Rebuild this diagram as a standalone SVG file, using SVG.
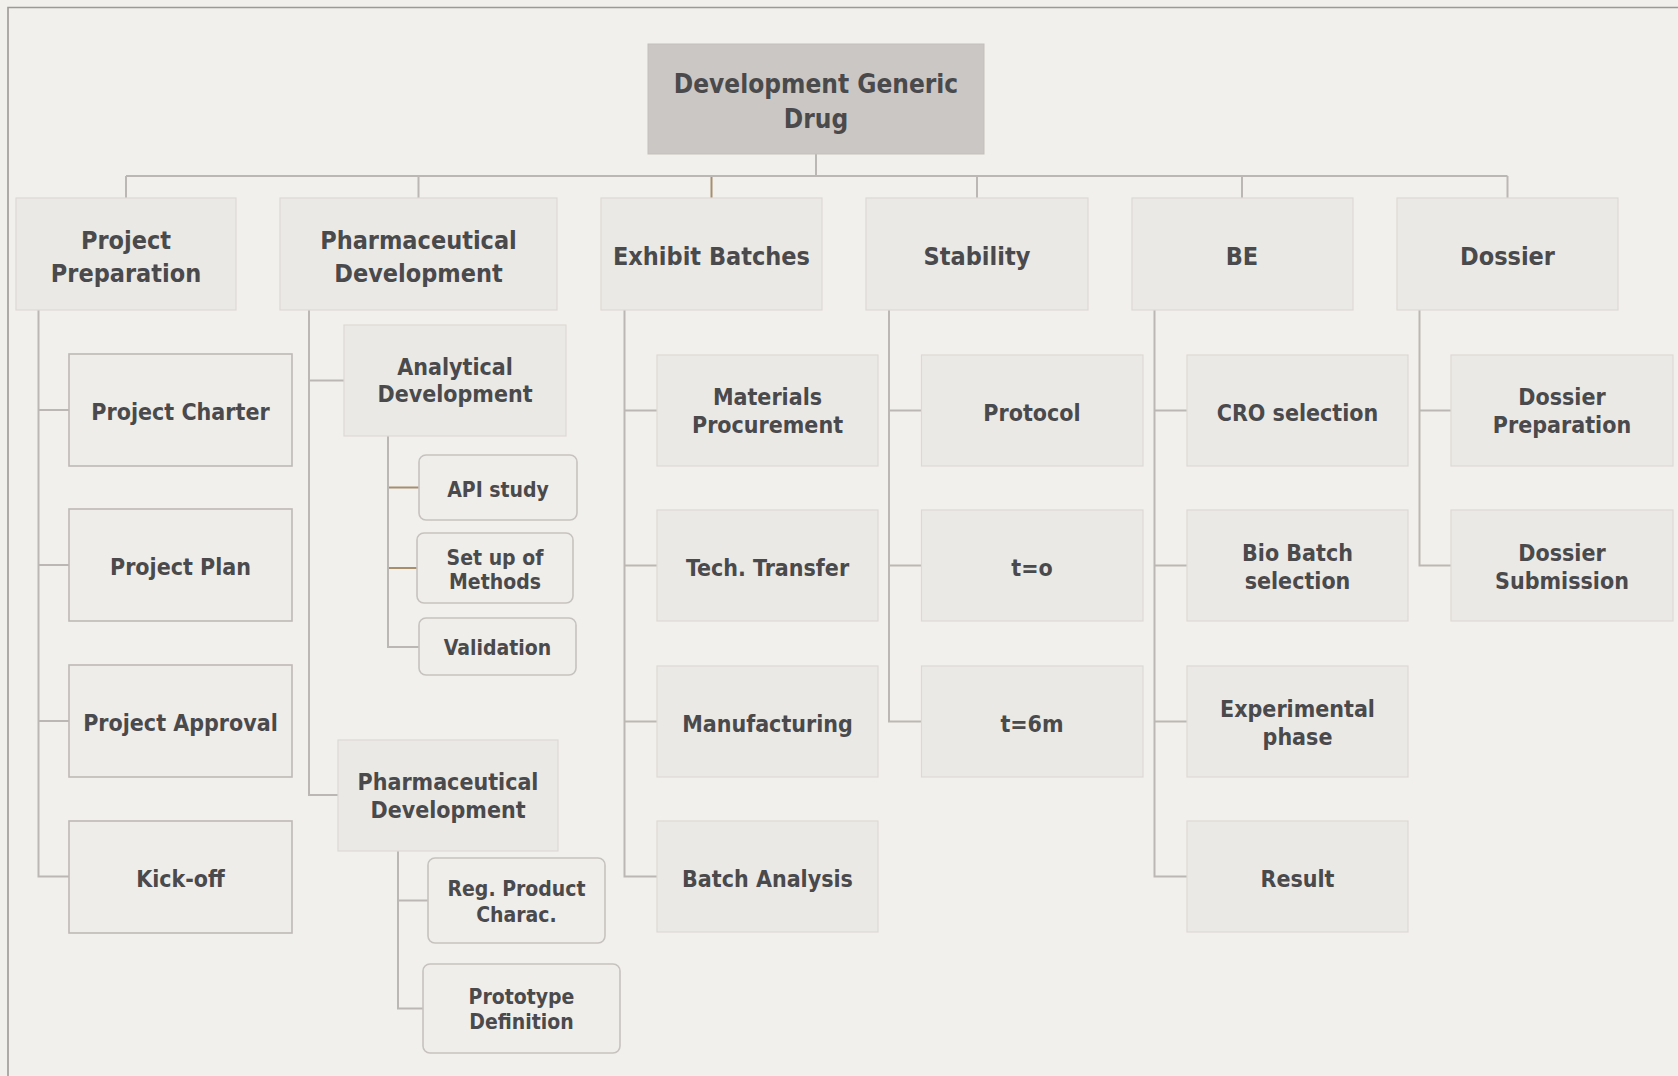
<svg xmlns="http://www.w3.org/2000/svg" width="1678" height="1076" viewBox="0 0 1678 1076">
<style>
text{font-family:"DejaVu Sans Condensed","DejaVu Sans","Liberation Sans",sans-serif;font-stretch:condensed;font-weight:bold;fill:#4a4a4c;text-anchor:middle}
.root rect{fill:#cbc7c4;stroke:#c3bfbc;stroke-width:1}
.root text{font-size:26px}
.l1 rect{fill:#ebe9e6;stroke:#dcd9d5;stroke-width:1.2}
.l1 text{font-size:25px}
.l2 rect{fill:#ebe9e6;stroke:#dcd9d5;stroke-width:1.2}
.l2 text{font-size:23px}
.pp rect{fill:#efedea;stroke:#bdb9b6;stroke-width:1.6}
.l3 rect{fill:#f0eeeb;stroke:#c6c2bf;stroke-width:1.6}
.l3 text{font-size:21px}
#connectors line,#connectors path{stroke:#bbb7b4;stroke-width:2;fill:none}
#connectors .br{stroke:#a88f6c}
.frame{stroke:#9c9996;stroke-width:1.6;fill:none}
</style>
<rect x="0" y="0" width="1678" height="1076" fill="#f2f0ed"/>
<path class="frame" d="M8,1076 L8,7.5 L1678,7.5"/>

<g id="connectors">
<line x1="816" y1="154" x2="816" y2="176"/>
<line x1="126" y1="176" x2="1507.5" y2="176"/>
<line x1="126" y1="176" x2="126" y2="198"/>
<line x1="418.5" y1="176" x2="418.5" y2="198"/>
<line class="br" x1="711.5" y1="177" x2="711.5" y2="198"/>
<line x1="977" y1="176" x2="977" y2="198"/>
<line x1="1242" y1="176" x2="1242" y2="198"/>
<line x1="1507.5" y1="176" x2="1507.5" y2="198"/>
<!-- Project Preparation -->
<path d="M38.5,310 V876.5 H69 M38.5,410 H69 M38.5,565 H69 M38.5,721 H69"/>
<!-- Pharmaceutical Development -->
<path d="M309,310 V795 H338 M309,380.5 H344"/>
<path d="M388,436 V647 H419"/>
<line class="br" x1="389" y1="487.5" x2="419" y2="487.5"/>
<line class="br" x1="389" y1="568" x2="417" y2="568"/>
<path d="M398,851 V1008.5 H423 M398,900.5 H428"/>
<!-- Exhibit Batches -->
<path d="M624.5,310 V876.5 H657 M624.5,410.5 H657 M624.5,565.5 H657 M624.5,721.5 H657"/>
<!-- Stability -->
<path d="M889,310 V721.5 H921.5 M889,410.5 H921.5 M889,565.5 H921.5"/>
<!-- BE -->
<path d="M1154.5,310 V876.5 H1187 M1154.5,410.5 H1187 M1154.5,565.5 H1187 M1154.5,721.5 H1187"/>
<!-- Dossier -->
<path d="M1419.5,310 V565.5 H1451 M1419.5,410.5 H1451"/>
</g>

<g id="root" class="root"><rect x="648" y="44" width="336" height="110"/><text x="816" y="93">Development Generic</text><text x="816" y="128">Drug</text></g>

<g id="project-preparation" class="l1"><rect x="16" y="198" width="220" height="112"/><text x="126" y="249">Project</text><text x="126" y="282">Preparation</text></g>
<g id="pharmaceutical-development" class="l1"><rect x="280" y="198" width="277" height="112"/><text x="418.5" y="249">Pharmaceutical</text><text x="418.5" y="282">Development</text></g>
<g id="exhibit-batches" class="l1"><rect x="601" y="198" width="221" height="112"/><text x="711.5" y="265">Exhibit Batches</text></g>
<g id="stability" class="l1"><rect x="866" y="198" width="222" height="112"/><text x="977" y="265">Stability</text></g>
<g id="be" class="l1"><rect x="1132" y="198" width="221" height="112"/><text x="1242" y="265">BE</text></g>
<g id="dossier" class="l1"><rect x="1397" y="198" width="221" height="112"/><text x="1507.5" y="265">Dossier</text></g>

<g id="project-charter" class="l2 pp"><rect x="69" y="354" width="223" height="112"/><text x="180.5" y="420">Project Charter</text></g>
<g id="project-plan" class="l2 pp"><rect x="69" y="509" width="223" height="112"/><text x="180.5" y="575">Project Plan</text></g>
<g id="project-approval" class="l2 pp"><rect x="69" y="665" width="223" height="112"/><text x="180.5" y="731">Project Approval</text></g>
<g id="kick-off" class="l2 pp"><rect x="69" y="821" width="223" height="112"/><text x="180.5" y="887">Kick-off</text></g>

<g id="analytical-development" class="l2"><rect x="344" y="325" width="222" height="111"/><text x="455" y="375">Analytical</text><text x="455" y="402">Development</text></g>
<g id="api-study" class="l3"><rect x="419" y="455" width="158" height="65" rx="7"/><text x="498" y="497">API study</text></g>
<g id="set-up-of-methods" class="l3"><rect x="417" y="533" width="156" height="70" rx="7"/><text x="495" y="565">Set up of</text><text x="495" y="588.5">Methods</text></g>
<g id="validation" class="l3"><rect x="419" y="618" width="157" height="57" rx="7"/><text x="497.5" y="655">Validation</text></g>
<g id="pharmaceutical-development-2" class="l2"><rect x="338" y="740" width="220" height="111"/><text x="448" y="790">Pharmaceutical</text><text x="448" y="818">Development</text></g>
<g id="reg-product-charac" class="l3"><rect x="428" y="858" width="177" height="85" rx="7"/><text x="516.5" y="896">Reg. Product</text><text x="516.5" y="921.5">Charac.</text></g>
<g id="prototype-definition" class="l3"><rect x="423" y="964" width="197" height="89" rx="7"/><text x="521.5" y="1004">Prototype</text><text x="521.5" y="1029">Definition</text></g>

<g id="materials-procurement" class="l2"><rect x="657" y="355" width="221" height="111"/><text x="767.5" y="405">Materials</text><text x="767.5" y="433">Procurement</text></g>
<g id="tech-transfer" class="l2"><rect x="657" y="510" width="221" height="111"/><text x="767.5" y="575.5">Tech. Transfer</text></g>
<g id="manufacturing" class="l2"><rect x="657" y="666" width="221" height="111"/><text x="767.5" y="731.5">Manufacturing</text></g>
<g id="batch-analysis" class="l2"><rect x="657" y="821" width="221" height="111"/><text x="767.5" y="886.5">Batch Analysis</text></g>

<g id="protocol" class="l2"><rect x="921.5" y="355" width="221.5" height="111"/><text x="1032" y="420.5">Protocol</text></g>
<g id="t0" class="l2"><rect x="921.5" y="510" width="221.5" height="111"/><text x="1032" y="575.5">t=o</text></g>
<g id="t6m" class="l2"><rect x="921.5" y="666" width="221.5" height="111"/><text x="1032" y="731.5">t=6m</text></g>

<g id="cro-selection" class="l2"><rect x="1187" y="355" width="221" height="111"/><text x="1297.5" y="420.5">CRO selection</text></g>
<g id="bio-batch-selection" class="l2"><rect x="1187" y="510" width="221" height="111"/><text x="1297.5" y="560.5">Bio Batch</text><text x="1297.5" y="588.5">selection</text></g>
<g id="experimental-phase" class="l2"><rect x="1187" y="666" width="221" height="111"/><text x="1297.5" y="716.5">Experimental</text><text x="1297.5" y="744.5">phase</text></g>
<g id="result" class="l2"><rect x="1187" y="821" width="221" height="111"/><text x="1297.5" y="886.5">Result</text></g>

<g id="dossier-preparation" class="l2"><rect x="1451" y="355" width="222" height="111"/><text x="1562" y="405">Dossier</text><text x="1562" y="433">Preparation</text></g>
<g id="dossier-submission" class="l2"><rect x="1451" y="510" width="222" height="111"/><text x="1562" y="560.5">Dossier</text><text x="1562" y="588.5">Submission</text></g>
</svg>
